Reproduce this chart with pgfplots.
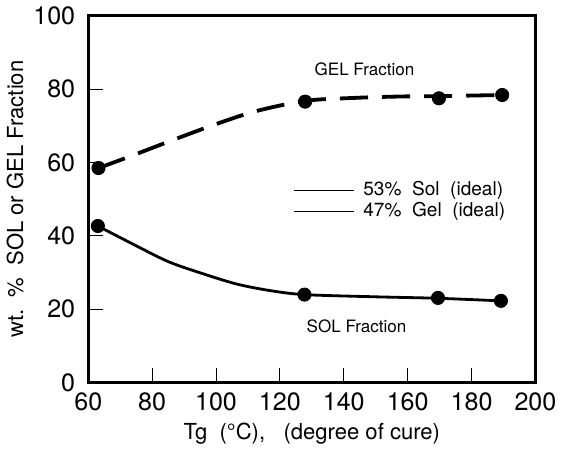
\documentclass[border=0pt]{standalone}
\usepackage{fontspec}
\setmainfont{TeX Gyre Heros}
\usepackage{pgfplots}
\pgfplotsset{compat=1.18}
\begin{document}
\begin{tikzpicture}
\begin{axis}[
    scale only axis,
    width=223pt, height=183pt,
    xmin=60, xmax=200, ymin=0, ymax=100,
    xtick={60,80,...,200}, ytick={0,20,...,100},
    tick align=inside,
    xtick pos=bottom, ytick pos=left,
    major tick length=7.5pt,
    tick style={line width=0.5pt, black},
    axis line style={line width=1.4pt},
    ticklabel style={font=\fontsize{12.5}{14}\selectfont},
    xticklabel style={yshift=-1.5pt},
    yticklabel style={xshift=-3pt},
    /pgf/number format/assume math mode=true,
    xlabel={Tg\ \ (°C),\ \ \ (degree of cure)},
    ylabel={wt.\ \ \%\ \ SOL or GEL Fraction},
    label style={font=\fontsize{11}{13}\selectfont},
    xlabel style={yshift=1pt},
    ylabel style={yshift=-2pt},
    clip=false,
  ]
% GEL fraction curve
\addplot[black, line width=1.9pt, dash pattern=on 14pt off 7pt, smooth]
  coordinates {(63.2,58.5) (73.2,61.7) (84.3,65.4) (98.5,70.0) (112.1,73.9)
               (127.9,76.8) (143,77.6) (158,78.0) (170,78.1) (189.6,78.4)};
% SOL fraction curve
\addplot[black, line width=1.4pt, smooth]
  coordinates {(63.0,42.7) (74.8,37.4) (85.3,32.9) (95.9,29.7) (106.4,26.9)
               (116.9,25.1) (127.7,24.0) (150,23.4) (169.5,23.0) (189.2,22.3)};
% measured points
\addplot[black, only marks, mark=*, mark size=3.3pt]
  coordinates {(63.2,58.5) (127.9,76.6) (169.8,77.5) (189.6,78.4)};
\addplot[black, only marks, mark=*, mark size=3.3pt]
  coordinates {(63.0,42.7) (127.7,24.0) (169.5,23.1) (189.2,22.3)};
% ideal lines
\addplot[black, line width=0.4pt] coordinates {(124.4,52.5) (143.3,52.5)}
  node[right, font=\fontsize{9.5}{11}\selectfont, xshift=1pt] {53\%\ \ Sol\ \ (ideal)};
\addplot[black, line width=0.4pt] coordinates {(124.4,46.7) (143.3,46.7)}
  node[right, font=\fontsize{9.5}{11}\selectfont, xshift=1pt] {47\%\ \ Gel\ \ (ideal)};
\node[font=\fontsize{8.5}{10}\selectfont] at (axis cs:146.5,85.5) {GEL Fraction};
\node[font=\fontsize{8.5}{10}\selectfont] at (axis cs:144,15.5) {SOL Fraction};
\end{axis}
\end{tikzpicture}
\end{document}
